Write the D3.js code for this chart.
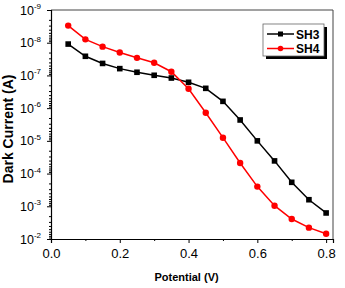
<!DOCTYPE html>
<html>
<head>
<meta charset="utf-8">
<script src="https://cdn.jsdelivr.net/npm/d3@7"></script>
<style>
  body { margin: 0; background: #fff; }
  text { font-family: "Liberation Sans", Arial, sans-serif; }
</style>
</head>
<body>
<div id="chart"></div>
<script>
// potential (V)
const potential = [0.05, 0.1, 0.15, 0.2, 0.25, 0.3, 0.35, 0.4, 0.45, 0.5, 0.55, 0.6, 0.65, 0.7, 0.75, 0.8];
// dark current (A)
const sh3 = [1.1e-8, 2.6e-8, 4.3e-8, 6.2e-8, 8.0e-8, 9.9e-8, 1.2e-7, 1.62e-7, 2.48e-7, 6.2e-7, 2.3e-6, 1.0e-5, 4.1e-5, 1.85e-4, 6.3e-4, 1.6e-3];
const sh4 = [3.0e-9, 7.9e-9, 1.32e-8, 2.0e-8, 2.9e-8, 4.1e-8, 7.7e-8, 2.55e-7, 1.38e-6, 8.0e-6, 4.75e-5, 2.5e-4, 9.6e-4, 2.45e-3, 4.5e-3, 6.9e-3];
const xTicks = [0.0, 0.2, 0.4, 0.6, 0.8];
const xMinor = [0.1, 0.3, 0.5, 0.7];
const yExps = [-9, -8, -7, -6, -5, -4, -3, -2];
const seriesNames = ["SH3", "SH4"];

let margin = {top: 10, right: 12, bottom: 49, left: 51};
let width = 345 - margin.left - margin.right;
let height = 288 - margin.top - margin.bottom;

let svg = d3.select("#chart").append("svg")
    .attr("width", 345)
    .attr("height", 288)
    .append("g")
    .attr("transform", "translate(" + margin.left + "," + margin.top + ")");

let x = d3.scaleLinear().domain([0, 0.82]).range([0, width]);
let y = d3.scaleLog().domain([1e-2, 1e-9]).range([height, 0]);

// frame (top and right)
svg.append("line").attr("x1", 0).attr("x2", width).attr("y1", 0).attr("y2", 0)
    .attr("stroke", "#444").attr("stroke-width", 1);
svg.append("line").attr("x1", width).attr("x2", width).attr("y1", 0).attr("y2", height)
    .attr("stroke", "#444").attr("stroke-width", 1);

// x axis
let xAxis = svg.append("g").attr("transform", "translate(0," + height + ")")
    .call(d3.axisBottom(x).tickValues(xTicks).tickSize(4).tickFormat(d3.format(".1f")));
svg.append("g").attr("transform", "translate(0," + height + ")")
    .call(d3.axisBottom(x).tickValues(xMinor).tickSize(2).tickFormat(""))
    .select(".domain").remove();
xAxis.selectAll("text").attr("font-size", 13).attr("dy", "0.95em").attr("fill", "#000")
    .style("font-family", "Liberation Sans, Arial, sans-serif");

// y axis
let minor = [];
yExps.slice(1).forEach(e => {
    for (let k = 2; k <= 9; k++) minor.push(k * Math.pow(10, e - 1));
});
svg.append("g")
    .call(d3.axisLeft(y).tickValues(yExps.map(e => Math.pow(10, e))).tickSize(4).tickFormat(""));
svg.append("g")
    .call(d3.axisLeft(y).tickValues(minor).tickSize(2).tickFormat(""))
    .select(".domain").remove();

svg.selectAll(".domain").attr("stroke-width", 1.2);

let yLab = svg.append("g").selectAll("text").data(yExps).join("text")
    .attr("x", -10)
    .attr("y", d => y(Math.pow(10, d)) + 4.5)
    .attr("text-anchor", "end")
    .attr("font-size", 12.5);
yLab.append("tspan").text("10");
yLab.append("tspan").attr("dy", -5.5).attr("font-size", 8).text(d => "-" + (-d));

// axis titles
svg.append("text")
    .attr("transform", "translate(" + (-38) + "," + (height / 2 + 4.5) + ") rotate(-90)")
    .attr("text-anchor", "middle")
    .attr("font-size", 14)
    .attr("font-weight", "bold")
    .text("Dark Current (A)");
svg.append("text")
    .attr("x", x(0.4) - 2)
    .attr("y", height + 42)
    .attr("text-anchor", "middle")
    .attr("font-size", 11)
    .attr("font-weight", "bold")
    .text("Potential (V)");

// series
let colors = ["#000000", "#ff0000"];
let line = d3.line().x((d, i) => x(potential[i])).y(d => y(d));

[sh3, sh4].forEach((vals, si) => {
    svg.append("path").datum(vals)
        .attr("fill", "none")
        .attr("stroke", colors[si])
        .attr("stroke-width", 1.5)
        .attr("d", line);
});
svg.append("g").selectAll("rect").data(sh3).join("rect")
    .attr("x", (d, i) => x(potential[i]) - 2.8)
    .attr("y", d => y(d) - 2.8)
    .attr("width", 5.6).attr("height", 5.6)
    .attr("fill", colors[0]);
svg.append("g").selectAll("circle").data(sh4).join("circle")
    .attr("cx", (d, i) => x(potential[i]))
    .attr("cy", d => y(d))
    .attr("r", 3.2)
    .attr("fill", colors[1]);

// legend
let lg = svg.append("g").attr("transform", "translate(" + (263 - margin.left) + "," + (24 - margin.top) + ")");
lg.append("rect").attr("x", 3).attr("y", 3).attr("width", 61).attr("height", 32).attr("fill", "#000");
lg.append("rect").attr("x", 0).attr("y", 0).attr("width", 61).attr("height", 32)
    .attr("fill", "#fff").attr("stroke", "#666").attr("stroke-width", 0.8);
seriesNames.forEach((name, i) => {
    let yy = 10 + i * 14.5;
    lg.append("line").attr("x1", 4).attr("x2", 31).attr("y1", yy).attr("y2", yy)
        .attr("stroke", colors[i]).attr("stroke-width", 1.5);
    if (i === 0) {
        lg.append("rect").attr("x", 17.5 - 2.5).attr("y", yy - 2.5).attr("width", 5).attr("height", 5).attr("fill", colors[i]);
    } else {
        lg.append("circle").attr("cx", 17.5).attr("cy", yy).attr("r", 2.8).attr("fill", colors[i]);
    }
    lg.append("text").attr("x", 33).attr("y", yy + 4.5)
        .attr("font-size", 12).attr("font-weight", "bold").text(name);
});
</script>
</body>
</html>
